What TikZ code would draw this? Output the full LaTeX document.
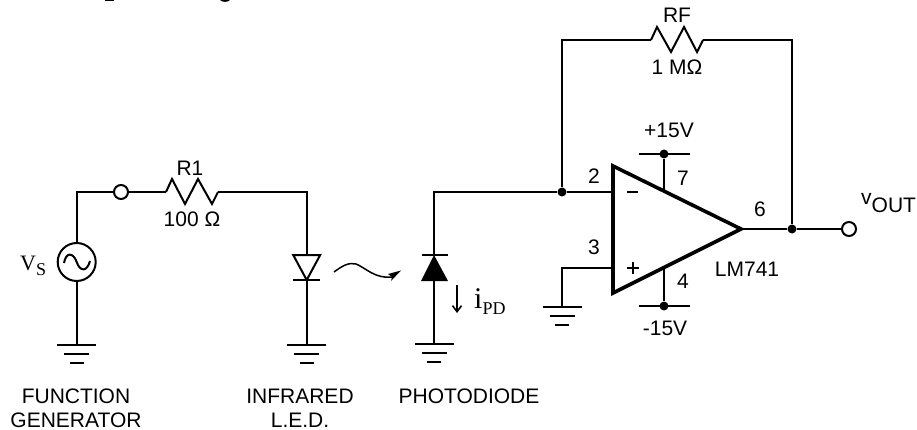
\documentclass[tikz,border=0pt]{standalone}
\usepackage{fontspec}
\setmainfont{Liberation Serif}
\setsansfont{Liberation Sans}
\usetikzlibrary{arrows.meta}
\tikzset{
  wire/.style={line width=2pt,line join=miter,line cap=butt},
  thick op/.style={line width=3.6pt,line join=miter},
  lab/.style={font=\sffamily\fontsize{21}{21}\selectfont,inner sep=0pt,text height=15pt,text depth=0pt,anchor=center,align=center},
  open dot/.style={circle,draw,line width=2pt,fill=white,minimum size=14pt,inner sep=0pt},
  solid dot/.style={circle,fill=black,minimum size=9pt,inner sep=0pt},
  gnd/.pic={
    \draw[wire] (-19.5,0) -- (19.5,0);
    \draw[wire] (-12.5,8.5) -- (12.5,8.5);
    \draw[wire] (-7,18) -- (7,18);
  }
}
\begin{document}
\begin{tikzpicture}[x=1pt,y=-1pt]
\useasboundingbox (0,0) rectangle (917,430);
% cropped descenders of the line of text above the picture
\fill (105,0) rectangle (114,1.5);
\fill (220,0) .. controls (222,2.5) and (228,2.5) .. (230,0) -- cycle;
% coordinates
\coordinate (srcTop) at (76.7,192);
\coordinate (gnd1) at (76.7,345);
\coordinate (rOneL) at (166,192);
\coordinate (rOneR) at (218,192);
\coordinate (ledTop) at (306.7,192);
\coordinate (ledA) at (306.7,255);
\coordinate (ledK) at (306.7,280);
\coordinate (gnd2) at (306.7,345);
\coordinate (pdTop) at (434,192);
\coordinate (pdK) at (434,255);
\coordinate (pdA) at (434,281);
\coordinate (gnd3) at (434,344);
\coordinate (inv) at (613,192);
\coordinate (non) at (613,268);
\coordinate (nonCorner) at (562,268);
\coordinate (gnd4) at (562,307);
\coordinate (fbL) at (562,40);
\coordinate (fbR) at (792,40);
\coordinate (rfL) at (651,40);
\coordinate (rfR) at (703,40);
\coordinate (opT) at (613,166);
\coordinate (opB) at (613,293);
\coordinate (opO) at (741,229);
\coordinate (p7) at (664,191.3);
\coordinate (p4) at (664,267.7);
% nodes
\node[circle,draw,line width=2pt,minimum size=38pt,inner sep=0pt] (src) at (76.7,262) {};
\node[open dot] (inTerm) at (121,192) {};
\node[open dot] (outTerm) at (849,229) {};
\node[solid dot] (jIn) at (562,192) {};
\node[solid dot] (jOut) at (792,229) {};
\node[solid dot] (vPos) at (664,154) {};
\node[solid dot] (vNeg) at (664,306) {};
% wires
\draw[wire] (src.north) -- (srcTop) -- (inTerm);
\draw[wire] (inTerm) -- (rOneL);
\draw[wire] (rOneL) -- ++(6,-13) -- ++(13,25) -- ++(13,-25) -- ++(14,25) -- (rOneR);
\draw[wire] (rOneR) -- (ledTop) -- (ledA);
\draw[wire] (ledK) -- (gnd2);
\draw[wire] (src.south) -- (gnd1);
\pic at (gnd1) {gnd};
\pic at (gnd2) {gnd};
\pic at (gnd3) {gnd};
\pic at (gnd4) {gnd};
% LED
\draw[wire] (ledA) ++(-13.5,0) -- ++(27,0) -- (ledK) -- cycle;
\draw[wire] (293,280) -- (320,280);
% source sine
\draw[wire] (64,263) .. controls (66,252) and (73,252) .. (76.7,262) .. controls (80,272) and (87,272) .. (90,261);
% light
\draw[line width=1.5pt] (334,272) .. controls (342,266) and (349,262) .. (356,264) .. controls (366,268) and (375,279) .. (392,277);
\fill (401,270.5) -- (388,274) -- (392,277) -- (391,281) -- cycle;
% photodiode
\draw[wire] (jIn) -- (pdTop) -- (pdK);
\draw[wire] (pdA) -- (gnd3);
\draw[wire] (422,255) -- (448,255);
\fill (pdK) -- (448,281) -- (421,281) -- cycle;
\draw[line width=1.6pt,-{Straight Barb[length=6pt,width=9pt,line width=1.6pt]}] (457,285) -- (457,313);
% op amp
\draw[wire] (jIn) -- (inv);
\draw[wire] (non) -- (nonCorner) -- (gnd4);
\draw[wire] (jIn) -- (fbL) -- (rfL);
\draw[wire] (rfL) -- ++(6,-13) -- ++(14,25) -- ++(13,-25) -- ++(13,25) -- (rfR);
\draw[wire] (rfR) -- (fbR) -- (jOut);
\draw[wire] (opO) -- (jOut) -- (outTerm);
\draw[wire] (p7) -- (vPos);
\draw[wire] (p4) -- (vNeg);
\draw[wire] (639,154) -- (690,154);
\draw[wire] (639,306) -- (690,306);
\draw[thick op] (opT) -- (opO) -- (opB) -- cycle;
\draw[wire] (627,192) -- (638,192);
\draw[wire] (627,268) -- (639,268) (633,262) -- (633,274);
% labels
\node[lab] (lR1) at (190,168) {R1};
\node[lab] (lR1v) at (192,219) {100 Ω};
\node[lab] (lRF) at (677,15) {RF};
\node[lab] (lRFv) at (677,67) {1 MΩ};
\node[lab] (lFG1) at (76,396) {FUNCTION};
\node[lab] (lFG2) at (76,420) {GENERATOR};
\node[lab] (lIR1) at (300,396) {INFRARED};
\node[lab] (lIR2) at (300,420) {L.E.D.};
\node[lab] (lPD) at (469,396) {PHOTODIODE};
\node[lab] (l2) at (594,176) {2};
\node[lab] (l3) at (594,247) {3};
\node[lab] (l7) at (683,178) {7};
\node[lab] (l6) at (760,209) {6};
\node[lab] (l4) at (683,281) {4};
\node[lab] (lP) at (669,130) {+15V};
\node[lab] (lM) at (665,328) {-15V};
\node[lab] (lLM) at (747,269) {LM741};
\node[lab,anchor=base west,text height=0pt] (lV) at (861,213) {\raisebox{8pt}{v}OUT};
\node[inner sep=0pt,anchor=base west,font=\rmfamily\fontsize{22}{22}\selectfont] (lVs) at (20,270) {V\raisebox{-5pt}{\fontsize{18}{18}\selectfont S}};
\node[inner sep=0pt,anchor=base west,font=\rmfamily\fontsize{30}{30}\selectfont] (lI) at (474,308) {i\raisebox{-6pt}{\fontsize{18}{18}\selectfont PD}};
\end{tikzpicture}
\end{document}
